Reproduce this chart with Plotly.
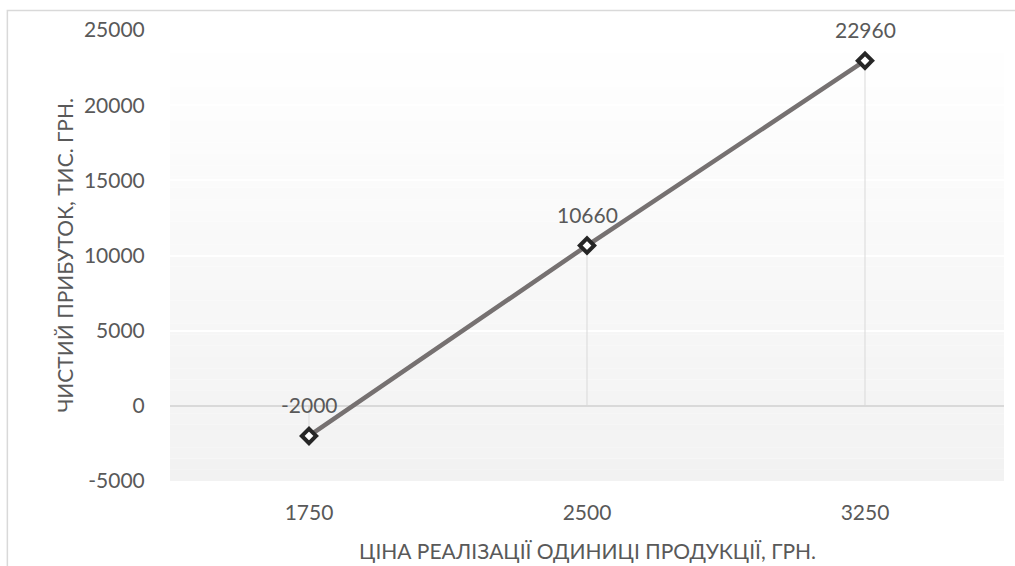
import plotly.graph_objects as go

# Price per unit (UAH) and net profit (thousand UAH)
prices = ["1750", "2500", "3250"]
profit = [-2000, 10660, 22960]

y_ticks = [-5000, 0, 5000, 10000, 15000, 20000, 25000]
y_tick_text = ["-5000", "0", "5000", "10000", "15000", "20000", "25000"]
x_title = "ЦІНА РЕАЛІЗАЦІЇ ОДИНИЦІ ПРОДУКЦІЇ, ГРН."
y_title = "ЧИСТИЙ ПРИБУТОК, ТИС. ГРН."

FONT = "Lato"
TEXT = "#595959"
Y_MIN, Y_MAX = -5000, 25000

fig = go.Figure()

# drop lines from each point to the category axis
drop_x, drop_y = [], []
for p, v in zip(prices, profit):
    drop_x += [p, p, None]
    drop_y += [0, v, None]
fig.add_trace(go.Scatter(
    x=drop_x, y=drop_y, mode="lines",
    line=dict(color="#d9d9d9", width=1),
    hoverinfo="skip", showlegend=False,
))

fig.add_trace(go.Scatter(
    x=prices, y=profit,
    mode="lines+markers",
    line=dict(color="#767171", width=4.5),
    marker=dict(symbol="diamond", size=11, color="white",
                line=dict(color="#262626", width=4)),
    showlegend=False,
))

# value labels above each point (category axis positions are indices)
annotations = [
    dict(x=i, y=v, xref="x", yref="y", text=str(v), showarrow=False,
         yshift=31, xanchor="center", yanchor="middle",
         font=dict(family=FONT, size=21, color=TEXT))
    for i, v in enumerate(profit)
]
annotations += [
    dict(text=x_title, xref="paper", yref="paper", x=0.5, y=-0.153,
         xanchor="center", yanchor="middle", showarrow=False,
         font=dict(family=FONT, size=21, color=TEXT)),
    dict(text=y_title, xref="paper", yref="paper", x=-0.127, y=0.5,
         xanchor="center", yanchor="middle", showarrow=False, textangle=-90,
         font=dict(family=FONT, size=21, color=TEXT)),
]

# vertical gradient fill behind the plot area: white at top, light grey at bottom
shapes = []
n = 40
step = (Y_MAX - Y_MIN) / n
for i in range(n):
    y0 = Y_MIN + i * step
    t = i / (n - 1)
    c = round(242 + (255 - 242) * t)
    shapes.append(dict(
        type="rect", xref="paper", yref="y", layer="below",
        x0=0, x1=1, y0=y0, y1=y0 + step,
        fillcolor=f"rgb({c},{c},{c})", line=dict(width=0),
    ))
# chart frame
shapes.append(dict(
    type="rect", xref="paper", yref="paper", layer="below",
    x0=-0.195, x1=1.2, y0=-0.4, y1=1.043,
    line=dict(color="#d9d9d9", width=1.5), fillcolor="rgba(0,0,0,0)",
))

fig.update_layout(
    width=1015, height=566,
    margin=dict(l=170, r=11, t=30, b=85),
    paper_bgcolor="white", plot_bgcolor="white",
    font=dict(family=FONT, color=TEXT, size=21),
    shapes=shapes,
    annotations=annotations,
)

fig.update_xaxes(
    type="category", range=[-0.5, 2.5],
    showgrid=False, showline=False, zeroline=False,
    ticks="outside", ticklen=13, tickcolor="rgba(0,0,0,0)",
    tickfont=dict(family=FONT, size=21, color=TEXT),
)
fig.update_yaxes(
    range=[Y_MIN, Y_MAX], tickvals=y_ticks, ticktext=y_tick_text,
    showgrid=True, gridcolor="white", gridwidth=1.5,
    zeroline=True, zerolinecolor="#d9d9d9", zerolinewidth=1.5,
    showline=False,
    ticks="outside", ticklen=20, tickcolor="rgba(0,0,0,0)",
    tickfont=dict(family=FONT, size=21, color=TEXT),
)

fig.write_html("out.html")
